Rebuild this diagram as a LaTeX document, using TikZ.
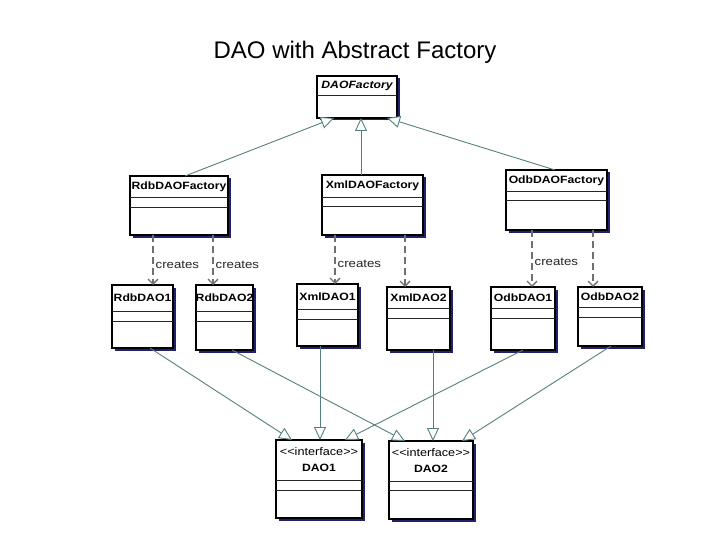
\documentclass[tikz,border=0pt]{standalone}
\usepackage{fontspec}
\setmainfont{Liberation Sans}
\newfontfamily\umlfont[FakeStretch=1.15]{Liberation Sans}
\usetikzlibrary{arrows.meta, calc, shadows}
\definecolor{cline}{HTML}{55807F}
\definecolor{cdash}{HTML}{707070}
\definecolor{cshade}{HTML}{22226A}
\tikzset{
  every picture/.style={x=1pt, y=-1pt},
  cls/.style={draw=black, fill=white, line width=1.1pt, anchor=north west, inner sep=0pt, outer sep=0pt,
    drop shadow={shadow xshift=2.5pt, shadow yshift=-2.5pt, fill=cshade, opacity=1}},
  ctitle/.style={font=\umlfont\fontsize{10.6}{13}\selectfont\bfseries, align=center, inner sep=0pt},
  sep/.style={draw=black!85, line width=0.9pt},
  gen/.style={draw=cline, line width=0.9pt, -{Triangle[length=13pt, width=12pt, fill=white]}},
  dep/.style={draw=cdash, line width=1.3pt, dash pattern=on 7pt off 4pt, -{Straight Barb[length=5pt, width=10pt]}},
  lbl/.style={font=\umlfont\fontsize{11.5}{13}\selectfont, text=black!85, inner sep=2pt},
}

\begin{document}
\begin{tikzpicture}
  \fill[white] (0,0) rectangle (720,540);
  \useasboundingbox (0,0) rectangle (720,540);

  \node[font=\fontsize{24}{28}\selectfont] (title) at (355,52) {DAO with Abstract Factory};

  % class boxes: name/x/y/width/height/separator 1/separator 2/text
  \foreach \n/\x/\y/\w/\h/\sa/\sb/\t in {
    fac/317/76/80/42/19/19/{\itshape DAOFactory},
    rdbf/130/176/98/59/21/31/RdbDAOFactory,
    xmlf/322/175/101/60/22/31/XmlDAOFactory,
    odbf/506/170/101/60/21/30/OdbDAOFactory,
    rdb1/112/285/61/63/26/36/RdbDAO1,
    rdb2/196/285/57/65/26/36/RdbDAO2,
    xml1/297/284/61/62/25/35/XmlDAO1,
    xml2/387/287/63/63/21/31/XmlDAO2,
    odb1/491/287/64/63/21/31/OdbDAO1,
    odb2/578/287/64/59/20/30/OdbDAO2,
    dao1/276/440/86/78/40/50/{{\mdseries\fontsize{11}{13}\selectfont\textless\textless interface\textgreater\textgreater}\\[3pt]DAO1},
    dao2/389/441/84/78/40/49/{{\mdseries\fontsize{11}{13}\selectfont\textless\textless interface\textgreater\textgreater}\\[3pt]DAO2}}
  {
    \node[cls, minimum width=\w pt, minimum height=\h pt] (\n) at (\x,\y) {};
    \node[ctitle] (\n-t) at ($(\n.north)+(0,\sa/2)$) {\t};
    \draw[sep] ($(\n.north west)+(0,\sa)$) -- ($(\n.north east)+(0,\sa)$);
    \draw[sep] ($(\n.north west)+(0,\sb)$) -- ($(\n.north east)+(0,\sb)$);
  }

  % factories extend DAOFactory
  \draw[gen] ($(rdbf.north west)+(55,0)$) -- ($(fac.south west)+(17,0)$);
  \draw[gen] ($(xmlf.north west)+(39,0)$) -- ($(fac.south west)+(44,0)$);
  \draw[gen] ($(odbf.north west)+(49,0)$) -- ($(fac.south east)+(-10,0)$);

  % creates
  \draw[dep] ($(rdbf.south west)+(23,0)$) -- node[lbl, right, pos=.6] {creates} ($(rdb1.north west)+(41,0)$);
  \draw[dep] ($(rdbf.south west)+(83,0)$) -- node[lbl, right, pos=.6] {creates} ($(rdb2.north west)+(17,0)$);
  \draw[dep] ($(xmlf.south west)+(13,0)$) -- node[lbl, right, pos=.58] {creates} ($(xml1.north west)+(38,0)$);
  \draw[dep] ($(xmlf.south west)+(83,0)$) -- ($(xml2.north west)+(18,0)$);
  \draw[dep] ($(odbf.south west)+(26,0)$) -- node[lbl, right, pos=.55] {creates} ($(odb1.north west)+(41,0)$);
  \draw[dep] ($(odbf.south west)+(87,0)$) -- ($(odb2.north west)+(15,0)$);

  % implementations of the interfaces
  \draw[gen] ($(rdb1.south west)+(38,0)$) -- ($(dao1.north west)+(16,0)$);
  \draw[gen] ($(rdb2.south west)+(36,0)$) -- ($(dao2.north west)+(16,0)$);
  \draw[gen] ($(xml1.south west)+(23,0)$) -- ($(dao1.north west)+(44,0)$);
  \draw[gen] ($(xml2.south west)+(46,0)$) -- ($(dao2.north west)+(44,0)$);
  \draw[gen] ($(odb1.south west)+(32,0)$) -- ($(dao1.north east)+(-17,0)$);
  \draw[gen] ($(odb2.south west)+(33,0)$) -- ($(dao2.north east)+(-11,0)$);
\end{tikzpicture}
\end{document}
